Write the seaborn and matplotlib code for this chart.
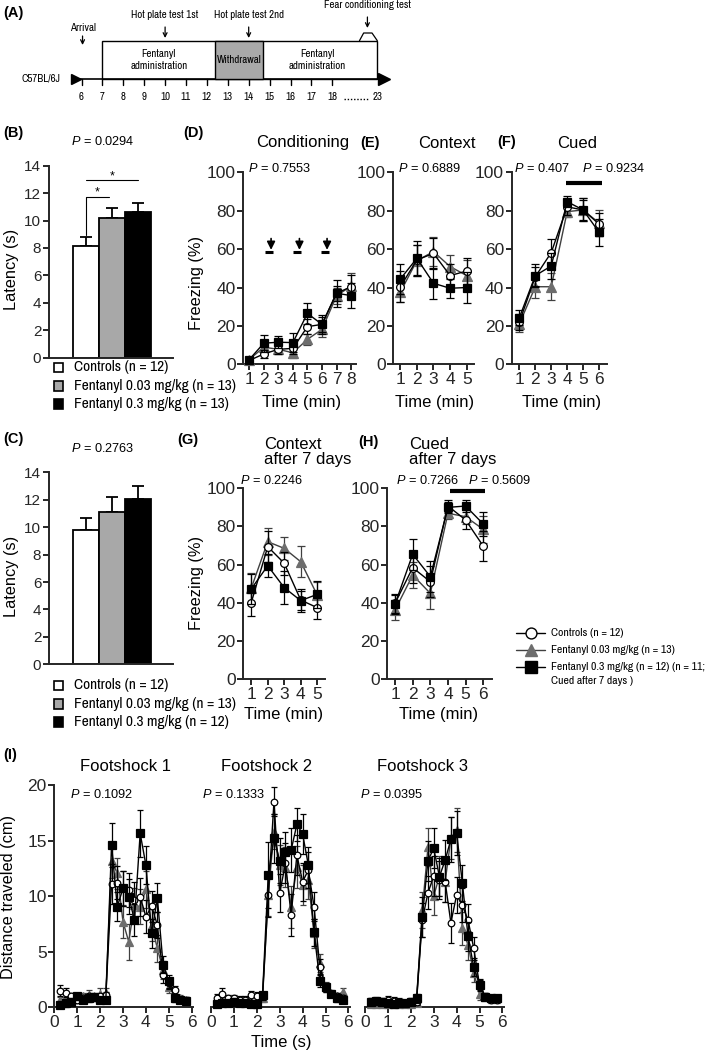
import matplotlib
matplotlib.use("Agg")
import matplotlib.pyplot as plt
import seaborn as sns
import pandas as pd
from matplotlib import font_manager
from matplotlib.font_manager import FontProperties
from matplotlib.textpath import TextPath
from matplotlib.patches import Rectangle

# ------------------------------------------------------------------ data
bar_groups = ["Controls", "Fentanyl 0.03 mg/kg", "Fentanyl 0.3 mg/kg"]
bar_colors = ["white", "#a8a8a8", "black"]
hp1_mean = [8.15, 10.2, 10.65]
hp1_sem = [0.68, 0.68, 0.65]
hp2_mean = [9.8, 11.1, 12.07]
hp2_sem = [0.9, 1.07, 0.9]
legend_B = ["Controls (n = 12)", "Fentanyl 0.03 mg/kg (n = 13)", "Fentanyl 0.3 mg/kg (n = 13)"]
legend_C = ["Controls (n = 12)", "Fentanyl 0.03 mg/kg (n = 13)", "Fentanyl 0.3 mg/kg (n = 12)"]
legend_FC = ["Controls (n = 12)", "Fentanyl 0.03 mg/kg (n = 13)",
             "Fentanyl 0.3 mg/kg (n = 12) (n = 11;", "Cued after 7 days )"]

# timeline (A)
tl_days = [6, 7, 8, 9, 10, 11, 12, 13, 14, 15, 16, 17, 18]
tl_last_day = 23
arrival_day = 6
hot_plate_days = [10, 14]
fentanyl_start = 7
withdrawal_span = [12.4, 14.7]

# (D) conditioning
cond_t = [1, 2, 3, 4, 5, 6, 7, 8]
cond_ctrl = [2.0, 5.4, 7.8, 8.3, 19.6, 20.8, 37.0, 40.4]
cond_ctrl_sem = [1.0, 2.0, 2.5, 3.0, 4.0, 4.0, 4.0, 6.0]
cond_tri = [2.5, 8.9, 7.8, 6.0, 13.0, 18.2, 35.6, 40.8]
cond_tri_sem = [1.0, 2.5, 2.5, 2.5, 3.0, 4.0, 4.0, 6.5]
cond_sq = [2.5, 11.0, 11.5, 11.3, 26.5, 20.8, 37.0, 35.8]
cond_sq_sem = [1.5, 4.5, 3.0, 5.0, 5.5, 5.0, 7.0, 6.5]
shock_t = [2.5, 4.45, 6.35]

# (E) context
ctx_t = [1, 2, 3, 4, 5]
ctx_ctrl = [40.4, 54.3, 57.8, 46.2, 48.6]
ctx_ctrl_sem = [8.0, 8.0, 8.0, 6.0, 7.0]
ctx_tri = [37.5, 54.0, 58.7, 50.9, 46.2]
ctx_tri_sem = [5.0, 8.0, 7.5, 6.0, 8.0]
ctx_sq = [44.4, 55.2, 42.2, 39.6, 40.0]
ctx_sq_sem = [8.0, 9.0, 8.0, 5.0, 8.0]

# (F) cued
cue_t = [1, 2, 3, 4, 5, 6]
cue_ctrl = [22.0, 45.6, 58.2, 82.0, 80.4, 73.0]
cue_ctrl_sem = [4.0, 5.0, 7.0, 4.0, 5.0, 6.0]
cue_tri = [21.0, 40.4, 40.4, 79.5, 80.4, 73.6]
cue_tri_sem = [4.0, 6.0, 7.0, 3.0, 6.0, 7.0]
cue_sq = [24.3, 46.2, 51.2, 84.7, 80.4, 68.8]
cue_sq_sem = [4.0, 6.0, 7.0, 3.0, 6.0, 7.0]

# (G) context after 7 days
ctx7_t = [1, 2, 3, 4, 5]
ctx7_ctrl = [40.0, 69.4, 60.7, 41.4, 37.4]
ctx7_ctrl_sem = [7.0, 8.0, 6.0, 5.0, 6.0]
ctx7_tri = [47.6, 72.0, 68.5, 61.5, 44.0]
ctx7_tri_sem = [8.0, 7.0, 6.0, 8.0, 7.0]
ctx7_sq = [47.2, 59.4, 47.9, 41.1, 44.4]
ctx7_sq_sem = [8.0, 6.0, 8.5, 6.0, 7.0]

# (H) cued after 7 days
cue7_t = [1, 2, 3, 4, 5, 6]
cue7_ctrl = [39.7, 58.4, 51.0, 90.7, 83.4, 69.7]
cue7_ctrl_sem = [5.0, 8.0, 8.0, 3.0, 5.0, 8.0]
cue7_tri = [36.2, 54.5, 44.9, 86.9, 85.1, 78.5]
cue7_tri_sem = [5.0, 7.0, 8.0, 3.0, 4.0, 7.0]
cue7_sq = [39.3, 65.4, 53.7, 90.0, 90.7, 81.3]
cue7_sq_sem = [5.0, 8.0, 8.0, 3.0, 3.0, 6.5]

# (I) distance traveled around each footshock
fs_t = [0.25, 0.5, 0.75, 1.0, 1.25, 1.5, 1.75, 2.0, 2.25, 2.5, 2.75, 3.0,
        3.25, 3.5, 3.75, 4.0, 4.25, 4.5, 4.75, 5.0, 5.25, 5.5, 5.75]
fs1_sq = [0.2, 0.35, 0.5, 1.0, 0.7, 0.8, 0.9, 0.65, 0.65, 14.6, 9.05, 10.7,
          9.95, 7.85, 15.65, 12.8, 6.65, 9.85, 3.85, 2.35, 0.8, 0.65, 0.6]
fs1_sq_sem = [0.2, 0.3, 0.3, 0.3, 0.3, 0.3, 0.3, 0.3, 0.3, 2.0, 1.3, 1.6,
              1.6, 1.4, 2.1, 1.7, 1.3, 1.3, 0.8, 0.6, 0.3, 0.3, 0.3]
fs1_ctrl = [1.5, 1.3, 1.0, 0.65, 0.8, 1.0, 0.9, 1.0, 1.1, 11.05, 11.2, 10.7,
            10.55, 9.65, 9.95, 8.15, 9.1, 7.4, 2.9, 2.15, 1.55, 0.65, 0.6]
fs1_ctrl_sem = [0.5, 0.4, 0.3, 0.3, 0.3, 0.3, 0.3, 0.3, 0.3, 1.8, 1.5, 1.6,
                1.5, 1.6, 1.7, 1.5, 1.4, 1.2, 0.7, 0.5, 0.4, 0.3, 0.3]
fs1_tri = [0.65, 0.8, 0.7, 1.0, 1.0, 1.15, 1.0, 1.2, 1.25, 13.2, 12.05, 7.7,
           5.9, 9.2, 9.05, 10.6, 7.4, 5.3, 3.35, 1.85, 1.25, 0.8, 0.65]
fs1_tri_sem = [0.3, 0.3, 0.3, 0.3, 0.3, 0.4, 0.3, 0.5, 0.5, 1.6, 1.4, 1.5,
               1.6, 1.5, 1.6, 1.7, 1.4, 1.2, 0.8, 0.6, 0.4, 0.3, 0.3]

fs2_sq = [0.3, 0.4, 0.4, 0.5, 0.4, 0.4, 0.3, 0.3, 1.1, 11.9, 15.2, 13.2,
          14.0, 14.15, 16.45, 15.6, 12.8, 6.75, 2.4, 1.8, 1.2, 0.8, 0.7]
fs2_sq_sem = [0.3, 0.3, 0.3, 0.3, 0.3, 0.3, 0.3, 0.3, 0.3, 3.0, 2.2, 2.0,
              1.8, 2.0, 1.5, 1.8, 1.6, 1.2, 0.6, 0.4, 0.3, 0.3, 0.3]
fs2_ctrl = [0.8, 1.2, 0.8, 0.85, 0.7, 0.7, 1.1, 1.0, 1.0, 10.1, 18.5, 10.25,
            12.95, 8.3, 13.7, 11.3, 12.35, 9.05, 3.65, 1.8, 1.2, 1.0, 0.8]
fs2_ctrl_sem = [0.4, 0.5, 0.3, 0.3, 0.3, 0.3, 0.4, 0.4, 0.3, 2.0, 1.3, 1.7,
                1.8, 1.9, 1.8, 1.7, 1.6, 1.3, 0.7, 0.4, 0.3, 0.3, 0.3]
fs2_tri = [0.5, 0.6, 0.5, 0.6, 0.5, 0.5, 0.6, 0.5, 0.8, 10.1, 15.8, 12.8,
           12.65, 9.05, 12.65, 11.0, 11.45, 6.65, 4.0, 1.85, 1.25, 1.0, 1.4]
fs2_tri_sem = [0.3, 0.3, 0.3, 0.3, 0.3, 0.3, 0.3, 0.3, 0.3, 1.9, 1.6, 1.8,
               1.8, 1.9, 1.9, 1.8, 1.7, 1.3, 0.8, 0.4, 0.3, 0.3, 0.3]

fs3_sq = [0.5, 0.55, 0.5, 0.35, 0.3, 0.35, 0.35, 0.5, 0.8, 8.1, 13.2, 14.3,
          11.75, 13.25, 15.1, 15.7, 11.2, 6.4, 3.6, 2.05, 0.95, 0.8, 0.85]
fs3_sq_sem = [0.3, 0.3, 0.3, 0.3, 0.3, 0.3, 0.3, 0.3, 0.4, 1.8, 1.8, 1.8,
              1.7, 1.8, 2.0, 2.0, 1.6, 1.3, 0.8, 0.5, 0.3, 0.3, 0.3]
fs3_ctrl = [0.5, 0.6, 0.5, 0.7, 0.6, 0.5, 0.4, 0.5, 0.5, 7.85, 10.3, 11.8,
            11.45, 11.3, 7.6, 10.1, 9.2, 7.85, 5.3, 2.0, 0.95, 0.7, 0.65]
fs3_ctrl_sem = [0.3, 0.3, 0.3, 0.3, 0.3, 0.3, 0.3, 0.3, 0.3, 1.5, 1.5, 1.8,
                1.7, 1.8, 1.8, 1.6, 1.5, 1.4, 1.0, 0.5, 0.3, 0.3, 0.3]
fs3_tri = [0.3, 0.3, 0.3, 0.3, 0.3, 0.3, 0.3, 0.3, 0.4, 8.75, 14.4, 10.0,
           11.8, 11.3, 15.2, 15.95, 7.1, 5.6, 3.1, 1.2, 0.95, 0.8, 0.8]
fs3_tri_sem = [0.3, 0.3, 0.3, 0.3, 0.3, 0.3, 0.3, 0.3, 0.3, 1.6, 1.7, 1.7,
               1.8, 1.8, 1.9, 2.0, 1.5, 1.3, 0.8, 0.5, 0.3, 0.3, 0.3]

# ------------------------------------------------------------------ style
sns.set_theme(style="ticks")
plt.rcParams["font.family"] = ["Liberation Sans", "DejaVu Sans"]
plt.rcParams["mathtext.fontset"] = "custom"
plt.rcParams["mathtext.it"] = "Liberation Sans:italic"
plt.rcParams["mathtext.rm"] = "Liberation Sans"
plt.rcParams["axes.linewidth"] = 1.4
plt.rcParams["text.color"] = "black"


def _is_regular(f):
    w = f.weight
    ok_w = (w in (400, "normal", "regular", "book")) or (isinstance(w, int) and 350 <= w <= 450)
    return f.style == "normal" and ok_w


def find_narrow_font():
    best = None
    for f in font_manager.fontManager.ttflist:
        if not _is_regular(f):
            continue
        n = f.name
        score = None
        if n == "Liberation Sans Narrow":
            score = 0
        elif "Narrow" in n:
            score = 1
        elif "Condensed" in n and "Extra" not in n and "Semi" not in n:
            score = 2
        elif f.stretch == "condensed":
            score = 3
        elif f.stretch == "semi-condensed":
            score = 4
        if score is not None and (best is None or score < best[0]):
            best = (score, f.fname)
    return best[1] if best else None


NARROW_FILE = find_narrow_font()


def fitted_font(sample, target_px, narrow=True):
    if narrow and NARROW_FILE:
        fp = FontProperties(fname=NARROW_FILE, size=10)
    else:
        fp = FontProperties(family="Liberation Sans", size=10)
    w = TextPath((0, 0), sample, prop=fp).get_extents().width * 100 / 72
    fp.set_size(10 * target_px / w)
    return fp


fpA = fitted_font("Hot plate test 1st", 66)
fpLegBC = fitted_font("Fentanyl 0.03 mg/kg (n = 13)", 160)
fpLegFC = fitted_font("Fentanyl 0.03 mg/kg (n = 13)", 122)

W, H = 709, 1053
fig = plt.figure(figsize=(W / 100, H / 100), dpi=100)
fig.patch.set_facecolor("white")

# overlay axes in pixel coordinates for free text and legends
axO = fig.add_axes([0, 0, 1, 1], zorder=10)
axO.set_xlim(0, W)
axO.set_ylim(H, 0)
axO.axis("off")
axO.patch.set_alpha(0)


def px_axes(l, t, r, b):
    return fig.add_axes([l / W, 1 - b / H, (r - l) / W, (b - t) / H])


def ftext(x, y, s, **kw):
    kw.setdefault("va", "center")
    return axO.text(x, y, s, **kw)


def ptxt(s):
    return r"$\it{P}$ = " + s


TICK_FS = 12.5
TITLE_FS = 12
PFS = 9.2
LAB_FS = 11.8
LETTER_FS = 10.5

# ------------------------------------------------------------------ (A)
axA = px_axes(0, 0, W, 110)
px0, sc = 81.5, 20.9
axA.set_xlim(6 - px0 / sc, 6 + (W - px0) / sc)
axA.set_ylim(110, 0)
axA.axis("off")
last_pos = 18 + (377 - 332) / sc
axA.plot([5.6, 20.4], [79, 79], color="black", lw=1.2)
axA.plot([5.74], [79], marker=">", ms=7, color="black")
axA.plot([20.45], [79], marker=">", ms=8, color="black")
for d in tl_days:
    axA.plot([d, d], [79, 85], color="black", lw=1.0)
    axA.text(d, 97, str(d), ha="center", va="center", fontproperties=fpA)
axA.text(last_pos, 97, str(tl_last_day), ha="center", va="center", fontproperties=fpA)
axA.plot([18.55, 19.7], [98.5, 98.5], color="black", lw=1.0, ls=(0, (1, 1.3)))
axA.add_patch(Rectangle((fentanyl_start, 40.7), last_pos - fentanyl_start, 38.3,
                        facecolor="white", edgecolor="black", lw=1.0, zorder=1))
axA.add_patch(Rectangle((withdrawal_span[0], 40.7), withdrawal_span[1] - withdrawal_span[0], 38.3,
                        facecolor="#a9a9a9", edgecolor="black", lw=1.0, zorder=2))
axA.text((fentanyl_start + withdrawal_span[0]) / 2, 60, "Fentanyl\nadministration",
         ha="center", va="center", fontproperties=fpA, linespacing=1.2)
axA.text(sum(withdrawal_span) / 2, 60, "Withdrawal", ha="center", va="center", fontproperties=fpA)
axA.text((withdrawal_span[1] + last_pos) / 2 - 0.15, 60, "Fentanyl\nadministration",
         ha="center", va="center", fontproperties=fpA, linespacing=1.2)
axA.text(5.0, 79, "C57BL/6J", ha="right", va="center", fontproperties=fpA)
arrow_kw = dict(arrowstyle="->", color="black", lw=0.9, shrinkA=0, shrinkB=0, mutation_scale=7)
axA.annotate("", xy=(arrival_day + 0.05, 45), xytext=(arrival_day + 0.05, 36), arrowprops=arrow_kw)
axA.text(arrival_day + 0.05, 28, "Arrival", ha="center", va="center", fontproperties=fpA)
for d, lab in zip(hot_plate_days, ["Hot plate test 1st", "Hot plate test 2nd"]):
    axA.annotate("", xy=(d, 38), xytext=(d, 27), arrowprops=arrow_kw)
    axA.text(d, 15, lab, ha="center", va="center", fontproperties=fpA)
fear_pos = 19.68
axA.annotate("", xy=(fear_pos, 28), xytext=(fear_pos, 17), arrowprops=arrow_kw)
axA.text(fear_pos, 5, "Fear conditioning test", ha="center", va="center", fontproperties=fpA)
axA.plot([19.3, 19.5, 19.9, last_pos], [40.7, 33, 33, 40.7], color="black", lw=0.9)
ftext(3, 13, "(A)", fontsize=LETTER_FS, fontweight="bold")


# ------------------------------------------------------------------ bars (B, C)
def bar_panel(top, means, sems, ptext, legend_labels, letter, leg_y):
    ax = px_axes(49, top, 173, top + 192)
    df = pd.DataFrame({"group": bar_groups, "latency": means})
    sns.barplot(data=df, x="group", y="latency", hue="group", palette=bar_colors,
                width=1.0, edgecolor="black", linewidth=1.3, errorbar=None,
                legend=False, ax=ax, zorder=2)
    ax.errorbar([0, 1, 2], means, yerr=[[0, 0, 0], sems], fmt="none", ecolor="black",
                elinewidth=1.3, capsize=4, capthick=1.3, zorder=1)
    ax.set_xlim(-1.42, 3.35)
    ax.set_ylim(0, 14)
    ax.set_yticks(range(0, 15, 2))
    ax.set_xticks([])
    ax.set_xlabel("")
    ax.set_ylabel("")
    ax.tick_params(axis="y", labelsize=11, length=4, width=1.4, pad=1.5)
    sns.despine(ax=ax)
    ftext(103, top - 24, ptxt(ptext), ha="center", fontsize=PFS)
    ftext(11.5, top + 104, "Latency (s)", ha="center", rotation=90, fontsize=LAB_FS)
    ftext(3, top - 33, letter, fontsize=LETTER_FS, fontweight="bold")
    for i, (c, lab) in enumerate(zip(bar_colors, legend_labels)):
        y = leg_y + i * 18.3
        axO.add_patch(Rectangle((53.5, y - 4.8), 9.6, 9.6, facecolor=c, edgecolor="black", lw=1.2))
        axO.text(74, y, lab, ha="left", va="center", fontproperties=fpLegBC)
    return ax


axB = bar_panel(165.7, hp1_mean, hp1_sem, "0.0294", legend_B, "(B)", 367.5)
axB.plot([0, 2], [12.95, 12.95], color="black", lw=0.8)
axB.text(1, 13.25, "*", ha="center", va="center", fontsize=9)
axB.plot([0, 0, 0.9], [8.95, 11.74, 11.74], color="black", lw=0.8)
axB.text(0.45, 12.05, "*", ha="center", va="center", fontsize=9)
axC = bar_panel(472.3, hp2_mean, hp2_sem, "0.2763", legend_C, "(C)", 685.5)

# ------------------------------------------------------------------ freezing panels
STY = {
    "tri": dict(marker="^", ms=6.6, mfc="#6d6d6d", mec="#6d6d6d", line="#404040", err="#404040", z=3),
    "ctrl": dict(marker="o", ms=5.6, mfc="white", mec="black", line="black", err="black", z=4),
    "sq": dict(marker="s", ms=6.0, mfc="black", mec="black", line="black", err="black", z=5),
}


def draw_series(ax, t, mean, sem, kind, scale=1.0, cap=3.0):
    s = STY[kind]
    sns.lineplot(x=t, y=mean, ax=ax, color=s["line"], linewidth=1.0, marker=s["marker"],
                 markersize=s["ms"] * scale, markerfacecolor=s["mfc"], markeredgecolor=s["mec"],
                 markeredgewidth=0.9, zorder=s["z"], legend=False, clip_on=False)
    ax.errorbar(t, mean, yerr=sem, fmt="none", ecolor=s["err"], elinewidth=0.9,
                capsize=cap, capthick=0.9, zorder=s["z"] - 0.5, clip_on=False)


def freeze_panel(l, t, r, b, xlim, times, data):
    ax = px_axes(l, t, r, b)
    for kind in ["tri", "ctrl", "sq"]:
        m, e = data[kind]
        draw_series(ax, times, m, e, kind)
    ax.set_xlim(*xlim)
    ax.set_ylim(0, 100)
    ax.set_yticks(range(0, 101, 20))
    ax.set_xticks(times)
    ax.set_xlabel("")
    ax.set_ylabel("")
    ax.tick_params(labelsize=TICK_FS, length=4, width=1.4, pad=1.5)
    sns.despine(ax=ax)
    return ax


axD = freeze_panel(243.3, 172.3, 356, 364.3, (0.59, 8.34), cond_t,
                   {"tri": (cond_tri, cond_tri_sem), "ctrl": (cond_ctrl, cond_ctrl_sem),
                    "sq": (cond_sq, cond_sq_sem)})
for s in shock_t:
    axD.annotate("", xy=(s, 59.6), xytext=(s, 65.5),
                 arrowprops=dict(arrowstyle="-|>", color="black", lw=1.2, shrinkA=0, shrinkB=0,
                                 mutation_scale=12))
    axD.plot([s - 0.42, s + 0.1], [58.3, 58.3], color="black", lw=2.2, solid_capstyle="butt")
axE = freeze_panel(393.3, 172.3, 474, 364.3, (0.58, 5.44), ctx_t,
                   {"tri": (ctx_tri, ctx_tri_sem), "ctrl": (ctx_ctrl, ctx_ctrl_sem),
                    "sq": (ctx_sq, ctx_sq_sem)})
axF = freeze_panel(511.7, 172.3, 606.7, 364.3, (0.52, 6.48), cue_t,
                   {"tri": (cue_tri, cue_tri_sem), "ctrl": (cue_ctrl, cue_ctrl_sem),
                    "sq": (cue_sq, cue_sq_sem)})
axF.plot([3.9, 6.2], [94.6, 94.6], color="black", lw=3, clip_on=False, solid_capstyle="butt")
axG = freeze_panel(243.3, 488.3, 325, 679, (0.52, 5.47), ctx7_t,
                   {"tri": (ctx7_tri, ctx7_tri_sem), "ctrl": (ctx7_ctrl, ctx7_ctrl_sem),
                    "sq": (ctx7_sq, ctx7_sq_sem)})
axH = freeze_panel(387.3, 488.3, 491.7, 679, (0.56, 6.48), cue7_t,
                   {"tri": (cue7_tri, cue7_tri_sem), "ctrl": (cue7_ctrl, cue7_ctrl_sem),
                    "sq": (cue7_sq, cue7_sq_sem)})
axH.plot([4.1, 6.1], [98.6, 98.6], color="black", lw=3, clip_on=False, solid_capstyle="butt")

# titles / labels for D-H
ftext(183, 133, "(D)", fontsize=LETTER_FS, fontweight="bold")
ftext(360, 143, "(E)", fontsize=LETTER_FS, fontweight="bold")
ftext(497, 142, "(F)", fontsize=LETTER_FS, fontweight="bold")
ftext(177, 440, "(G)", fontsize=LETTER_FS, fontweight="bold")
ftext(358, 442, "(H)", fontsize=LETTER_FS, fontweight="bold")
ftext(303, 143, "Conditioning", ha="center", fontsize=TITLE_FS)
ftext(446.7, 143, "Context", ha="center", fontsize=TITLE_FS)
ftext(576.7, 143, "Cued", ha="center", fontsize=TITLE_FS)
ftext(264, 451.7, "Context\nafter 7 days", ha="left", fontsize=TITLE_FS, linespacing=1.0)
ftext(409, 451.7, "Cued\nafter 7 days", ha="left", fontsize=TITLE_FS, linespacing=1.0)
ftext(248, 169, ptxt("0.7553"), fontsize=PFS)
ftext(398, 169, ptxt("0.6889"), fontsize=PFS)
ftext(514, 169, ptxt("0.407"), fontsize=PFS)
ftext(582, 169, ptxt("0.9234"), fontsize=PFS)
ftext(240, 481, ptxt("0.2246"), fontsize=PFS)
ftext(396, 481, ptxt("0.7266"), fontsize=PFS)
ftext(468, 481, ptxt("0.5609"), fontsize=PFS)
ftext(196.7, 282.5, "Freezing (%)", ha="center", rotation=90, fontsize=LAB_FS)
ftext(196.7, 583.3, "Freezing (%)", ha="center", rotation=90, fontsize=LAB_FS)
ftext(301.7, 402.7, "Time (min)", ha="center", fontsize=TITLE_FS)
ftext(434.5, 402.7, "Time (min)", ha="center", fontsize=TITLE_FS)
ftext(561.7, 402.7, "Time (min)", ha="center", fontsize=TITLE_FS)
ftext(284, 714, "Time (min)", ha="center", fontsize=TITLE_FS)
ftext(439, 714, "Time (min)", ha="center", fontsize=TITLE_FS)

# legend for D-H (drawn in pixel space)
leg_rows = [633.3, 650.0, 666.7]
for y, k in zip(leg_rows, ["ctrl", "tri", "sq"]):
    s = STY[k]
    axO.plot([516, 545], [y, y], color=s["line"], lw=1.0)
    axO.plot([530.5], [y], marker=s["marker"], ms=s["ms"] * 1.4, mfc=s["mfc"], mec=s["mec"],
             mew=1.0, color=s["line"])
for y, lab in zip(leg_rows + [680.5], legend_FC):
    axO.text(551, y, lab, ha="left", va="center", fontproperties=fpLegFC)

# ------------------------------------------------------------------ (I)
I_data = [
    {"tri": (fs1_tri, fs1_tri_sem), "ctrl": (fs1_ctrl, fs1_ctrl_sem), "sq": (fs1_sq, fs1_sq_sem)},
    {"tri": (fs2_tri, fs2_tri_sem), "ctrl": (fs2_ctrl, fs2_ctrl_sem), "sq": (fs2_sq, fs2_sq_sem)},
    {"tri": (fs3_tri, fs3_tri_sem), "ctrl": (fs3_ctrl, fs3_ctrl_sem), "sq": (fs3_sq, fs3_sq_sem)},
]
I_left = [54.3, 211, 365]
I_titles = ["Footshock 1", "Footshock 2", "Footshock 3"]
I_title_x = [125, 267, 422.5]
I_p = ["0.1092", "0.1333", "0.0395"]
I_p_x = [70, 201.7, 360]
for i, (lft, data) in enumerate(zip(I_left, I_data)):
    ax = px_axes(lft, 785, lft + 6.05 * 22.9, 1007.3)
    for kind in ["tri", "ctrl", "sq"]:
        m, e = data[kind]
        draw_series(ax, fs_t, m, e, kind, scale=0.85, cap=2.5)
    ax.set_xlim(0, 6.05)
    ax.set_ylim(0, 20)
    ax.set_xticks(range(0, 7))
    ax.set_yticks(range(0, 21, 5))
    ax.set_xlabel("")
    ax.set_ylabel("")
    ax.tick_params(labelsize=TICK_FS, length=4, width=1.4, pad=1.5)
    if i == 0:
        sns.despine(ax=ax)
    else:
        sns.despine(ax=ax, left=True)
        ax.tick_params(axis="y", left=False, labelleft=False)
    ftext(I_title_x[i], 766.7, I_titles[i], ha="center", fontsize=TITLE_FS)
    ftext(I_p_x[i], 794, ptxt(I_p[i]), fontsize=PFS)
ftext(3, 755, "(I)", fontsize=LETTER_FS, fontweight="bold")
ftext(8.5, 896.7, "Distance traveled (cm)", ha="center", rotation=90, fontsize=LAB_FS)
ftext(281.7, 1043, "Time (s)", ha="center", fontsize=TITLE_FS)

fig.savefig("out.png", dpi=100, facecolor="white")
